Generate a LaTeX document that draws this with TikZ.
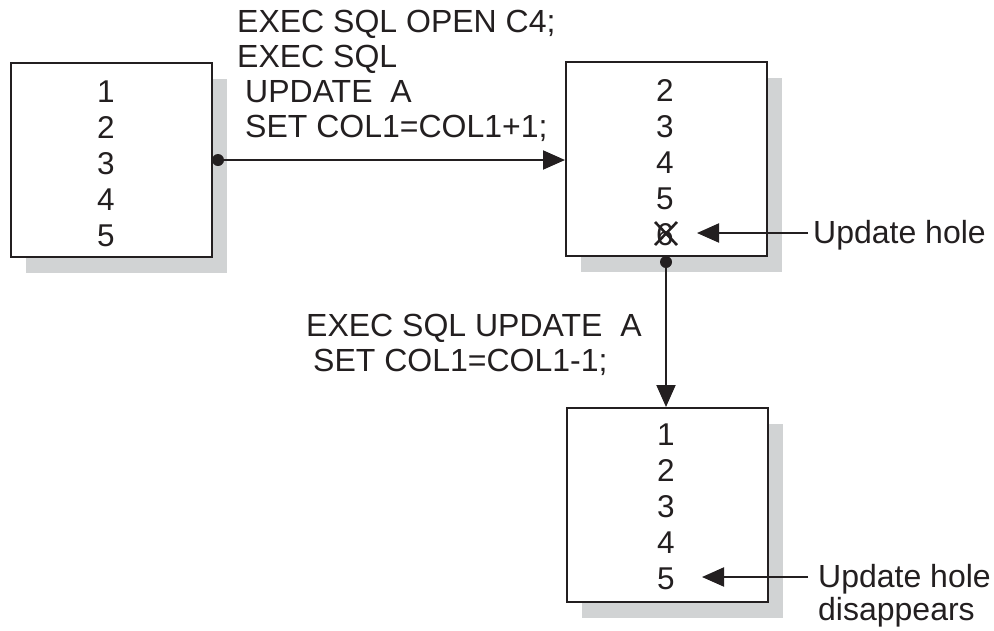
\documentclass[tikz,border=0pt]{standalone}
\usepackage{fontspec}
\setmainfont{Liberation Sans}
\usetikzlibrary{arrows.meta,shadows}
\definecolor{shadowgray}{RGB}{209,211,212}
\definecolor{inkblack}{RGB}{35,31,32}
\begin{document}
\begin{tikzpicture}[x=1pt,y=-1pt, color=inkblack,
  box/.style={draw, line width=2pt, fill=white, minimum width=201pt, minimum height=194pt, inner sep=0pt,
    general shadow={fill=shadowgray, draw=none, shadow xshift=15pt, shadow yshift=-16pt}},
  digits/.style={font=\fontsize{31.5}{36}\selectfont, align=center, inner sep=0pt},
  lbl/.style={font=\fontsize{32}{35}\selectfont, align=left, inner sep=0pt, anchor=north west},
  conn/.style={line width=2pt, -{Triangle[length=22pt,width=19pt]}},
  dotnode/.style={circle, fill=inkblack, inner sep=0pt, minimum size=12pt}]
\useasboundingbox (0,0) rectangle (994,630);

\node[box] (box1) at (111.5,160) {};
\node[box] (box2) at (666.5,159) {};
\node[box] (box3) at (667,505) {};

\node[digits] (n1) at (106,164) {1\\2\\3\\4\\5};
\node[digits] (n2) at (665,163) {2\\3\\4\\5\\6};
\node[digits] (n3) at (666,507) {1\\2\\3\\4\\5};

% cross over the hole
\draw[line width=2.6pt] (655,222) -- (677,245);
\draw[line width=2.6pt] (655,245) -- (677,222);

% top label
\node[lbl] (sql1) at (237,10) {EXEC SQL OPEN C4;\\EXEC SQL\\\hspace*{8pt}UPDATE\ \ A\\\hspace*{8pt}SET COL1=COL1+1;};
% bottom label
\node[lbl] (sql2) at (306,314) {EXEC SQL UPDATE\ \ A\\\hspace*{7pt}SET COL1=COL1-1;};

% connectors
\node[dotnode] (d1) at (218,160) {};
\node[dotnode] (d2) at (666,262) {};
\draw[conn] (d1.center) -- (d1 -| box2.west);
\draw[conn] (d2.center) -- (d2 |- box3.north);

% hole labels
\node[font=\fontsize{32}{35}\selectfont, inner sep=0pt, anchor=base west] (hole1) at (813,243) {Update hole};
\coordinate (h1) at (697,233);
\draw[conn] (hole1.west |- h1) ++(-5,0) -- (h1);

\node[lbl, font=\fontsize{32}{33}\selectfont] (hole2) at (818,564) {Update hole\\disappears};
\coordinate (h2) at (702,577);
\draw[conn] (hole2.west |- h2) ++(-10,0) -- (h2);
\end{tikzpicture}
\end{document}
